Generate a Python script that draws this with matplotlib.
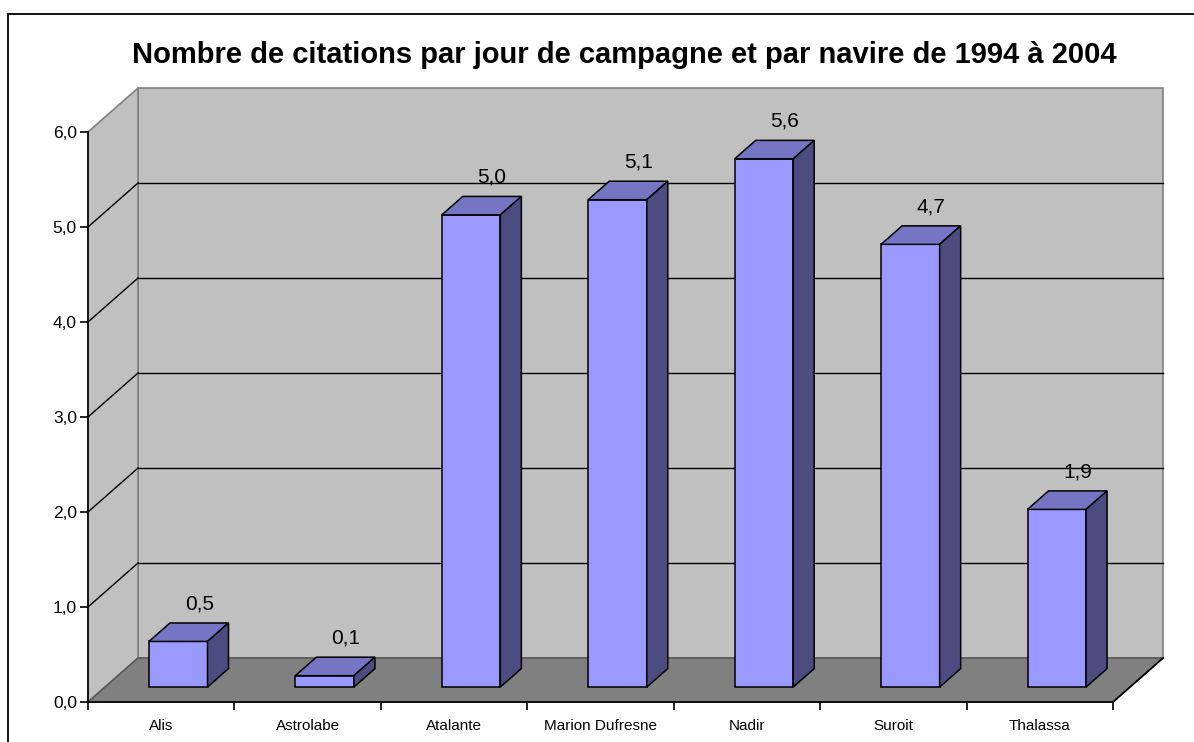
import numpy as np
import matplotlib
matplotlib.use("Agg")
import matplotlib.pyplot as plt
from matplotlib.patches import Polygon, Rectangle

# data
navires = ["Alis", "Astrolabe", "Atalante", "Marion Dufresne", "Nadir", "Suroit", "Thalassa"]
citations = [0.48, 0.12, 4.97, 5.13, 5.56, 4.66, 1.87]
yticks = [0, 1, 2, 3, 4, 5, 6]
titre = "Nombre de citations par jour de campagne et par navire de 1994 à 2004"

# 3D look (depth offset in data units)
DX = 0.3415
DY = 0.463
d1, d2 = 0.34, 0.76   # front / back of bars along depth
w = 0.40
nb = len(navires)
ymax = 6

plt.rcParams['font.family'] = ["Liberation Sans", "DejaVu Sans"]

fig = plt.figure(figsize=(11.94, 7.42), dpi=100)
W, H = 1194, 742
ax = fig.add_axes([88 / W, 40 / H, 1025 / W, 570 / H])
ax.set_xlim(-0.5, nb - 0.5)
ax.set_ylim(0, ymax)
ax.patch.set_visible(False)
for s in ["top", "right"]:
    ax.spines[s].set_visible(False)
for s in ["left", "bottom"]:
    ax.spines[s].set_color("black")
    ax.spines[s].set_linewidth(1.2)
    ax.spines[s].set_zorder(10)

x0, x1 = -0.5, nb - 0.5
# back wall
ax.add_patch(Polygon([(x0 + DX, DY), (x1 + DX, DY), (x1 + DX, ymax + DY), (x0 + DX, ymax + DY)],
                     closed=True, fc="#C0C0C0", ec="#808080", lw=1.2, clip_on=False, zorder=1))
# left wall
ax.add_patch(Polygon([(x0, 0), (x0 + DX, DY), (x0 + DX, ymax + DY), (x0, ymax)],
                     closed=True, fc="#C0C0C0", ec="#808080", lw=1.2, clip_on=False, zorder=1))
# floor
ax.add_patch(Polygon([(x0, 0), (x1, 0), (x1 + DX, DY), (x0 + DX, DY)],
                     closed=True, fc="#808080", ec="#5a5a5a", lw=1.2, clip_on=False, zorder=1))
ax.plot([x1, x1 + DX], [0, DY], color="black", lw=1.2, clip_on=False, zorder=2)

# gridlines
for v in yticks[1:-1]:
    ax.plot([x0 + DX, x1 + DX], [v + DY, v + DY], color="black", lw=1, clip_on=False, zorder=2)
    ax.plot([x0, x0 + DX], [v, v + DY], color="black", lw=1, clip_on=False, zorder=2)

# bars
xs = np.arange(nb)
dd = d2 - d1
ax.bar(xs + d1 * DX, citations, width=w, bottom=d1 * DY, color="#9999FF",
       edgecolor="black", lw=1.1, zorder=4, clip_on=False)
for x, v in zip(xs, citations):
    l = x - w / 2 + d1 * DX
    r = x + w / 2 + d1 * DX
    b = d1 * DY
    t = b + v
    ax.add_patch(Polygon([(l, t), (r, t), (r + dd * DX, t + dd * DY), (l + dd * DX, t + dd * DY)],
                         closed=True, fc="#7575C4", ec="black", lw=1.1, zorder=5, clip_on=False))
    ax.add_patch(Polygon([(r, b), (r + dd * DX, b + dd * DY), (r + dd * DX, t + dd * DY), (r, t)],
                         closed=True, fc="#4C4C80", ec="black", lw=1.1, zorder=5, clip_on=False))
    ax.annotate(f"{v:.1f}".replace(".", ","), xy=(x + d1 * DX + dd * DX, t + dd * DY),
                xytext=(0, 7), textcoords="offset points", ha="center", va="bottom",
                fontsize=15, zorder=6, annotation_clip=False)

# axes ticks
ax.set_yticks(yticks)
ax.set_yticklabels([f"{v:.1f}".replace(".", ",") for v in yticks], fontsize=12.5)
ax.tick_params(axis="y", direction="out", length=6, width=1.2, pad=2)
ax.set_xticks(np.arange(nb + 1) - 0.5)
ax.set_xticklabels([])
ax.set_xticks(xs, minor=True)
ax.set_xticklabels(navires, minor=True, fontsize=11)
ax.tick_params(axis="x", which="major", direction="out", length=6, width=1.2)
ax.tick_params(axis="x", which="minor", length=0, pad=12)

# title and outer frame
fig.text(624 / W, 1 - 63 / H, titre, ha="center", va="baseline", fontsize=21,
         fontweight="bold")
fig.patches.append(Rectangle((8 / W, -0.1), 1.1, (H - 14) / H + 0.1, transform=fig.transFigure,
                             fill=False, ec="black", lw=1.3))

fig.savefig("out.png", dpi=100)
